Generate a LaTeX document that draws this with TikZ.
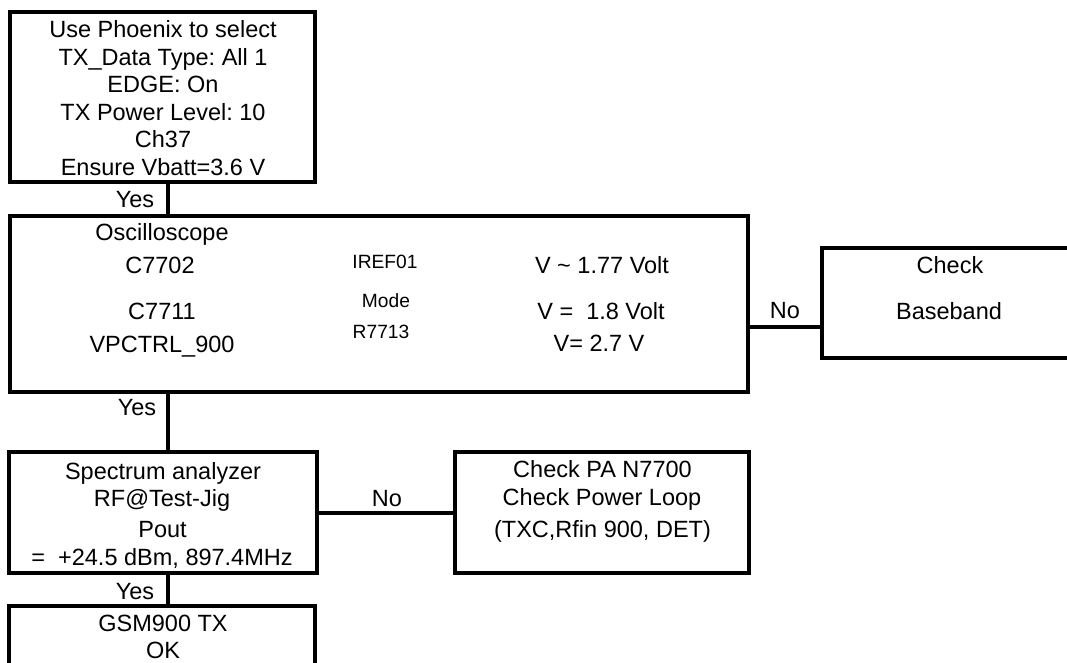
\documentclass[tikz,border=0pt]{standalone}
\usepackage{fontspec}
\setmainfont{Liberation Sans}
\frenchspacing
\begin{document}
\begin{tikzpicture}[x=1pt,y=-1pt,
  box/.style={draw=black,line width=4pt,rectangle,inner sep=0pt,outer sep=0pt},
  big/.style={anchor=base,inner sep=0pt,font=\fontsize{23.5}{27.6}\selectfont},
  small/.style={anchor=base,inner sep=0pt,font=\fontsize{19.2}{22}\selectfont},
  conn/.style={draw=black,line width=4pt}]
\useasboundingbox (0,0) rectangle (1067,663);
\begin{scope}
\clip (0,0) rectangle (1067,663);
% boxes
\node[box,minimum width=305pt,minimum height=170pt] (b1) at (162,97) {};
\node[box,minimum width=738pt,minimum height=176pt] (b2) at (379,304) {};
\node[box,minimum width=258pt,minimum height=110pt] (b3) at (951,303) {};
\node[box,minimum width=308pt,minimum height=121pt] (b4) at (163,512.5) {};
\node[box,minimum width=306pt,minimum height=94pt] (b5) at (162,653) {};
\node[box,minimum width=294pt,minimum height=121pt] (b6) at (602,512.5) {};
% connectors
\draw[conn] ([xshift=6pt]b1.south) -- ([xshift=6pt]b1.south |- b2.north);
\draw[conn] ([xshift=5pt]b4.north |- b2.south) -- ([xshift=5pt]b4.north);
\draw[conn] ([yshift=-24pt]b3.west -| b2.east) -- ([yshift=-24pt]b3.west);
\draw[conn] (b4.east) -- (b6.west);
\draw[conn] ([xshift=5pt]b4.south) -- ([xshift=5pt]b4.south |- b5.north);
\end{scope}
% box 1 text
\node[big] (t1a) at (163,37.5) {Use Phoenix to select};
\node[big] (t1b) at (163,65.1) {TX\_Data Type: All 1};
\node[big] (t1c) at (163,92.7) {EDGE: On};
\node[big] (t1d) at (163,120.3) {TX Power Level: 10};
\node[big] (t1e) at (163,147.9) {Ch37};
\node[big] (t1f) at (163,175.5) {Ensure Vbatt=3.6 V};
% yes labels
\node[big] (y1) at (135,207) {Yes};
\node[big] (y2) at (137,415) {Yes};
\node[big] (y3) at (135,599) {Yes};
% box 2 text
\node[big] (t2a) at (162,240) {Oscilloscope};
\node[big] (t2b) at (160,273) {C7702};
\node[big] (t2c) at (162,319) {C7711};
\node[big] (t2d) at (162,352) {VPCTRL\_900};
\node[small] (t2e) at (385,268) {IREF01};
\node[small] (t2f) at (386,307) {Mode};
\node[small] (t2g) at (381,338) {R7713};
\node[big] (t2h) at (602,273) {V \textasciitilde{} 1.77 Volt};
\node[big] (t2i) at (601,319) {V =\ \ 1.8 Volt};
\node[big] (t2j) at (599,351) {V= 2.7 V};
% no labels
\node[big] (n1) at (785,318) {No};
\node[big] (n2) at (387,506) {No};
% box 3 text
\node[big] (t3a) at (950,273) {Check};
\node[big] (t3b) at (949,319) {Baseband};
% box 4 text
\node[big] (t4a) at (163,479) {Spectrum analyzer};
\node[big] (t4b) at (162,506) {RF@Test-Jig};
\node[big] (t4c) at (162.5,537) {Pout};
\node[big] (t4d) at (162,565) {=\ \ +24.5 dBm, 897.4MHz};
% box 5 text
\node[big] (t5a) at (163,631) {GSM900 TX};
\node[big] (t5b) at (163,658) {OK};
% box 6 text
\node[big] (t6a) at (602.5,477) {Check PA N7700};
\node[big] (t6b) at (602,505) {Check Power Loop};
\node[big] (t6c) at (602.5,537) {(TXC,Rfin 900, DET)};
\end{tikzpicture}
\end{document}
